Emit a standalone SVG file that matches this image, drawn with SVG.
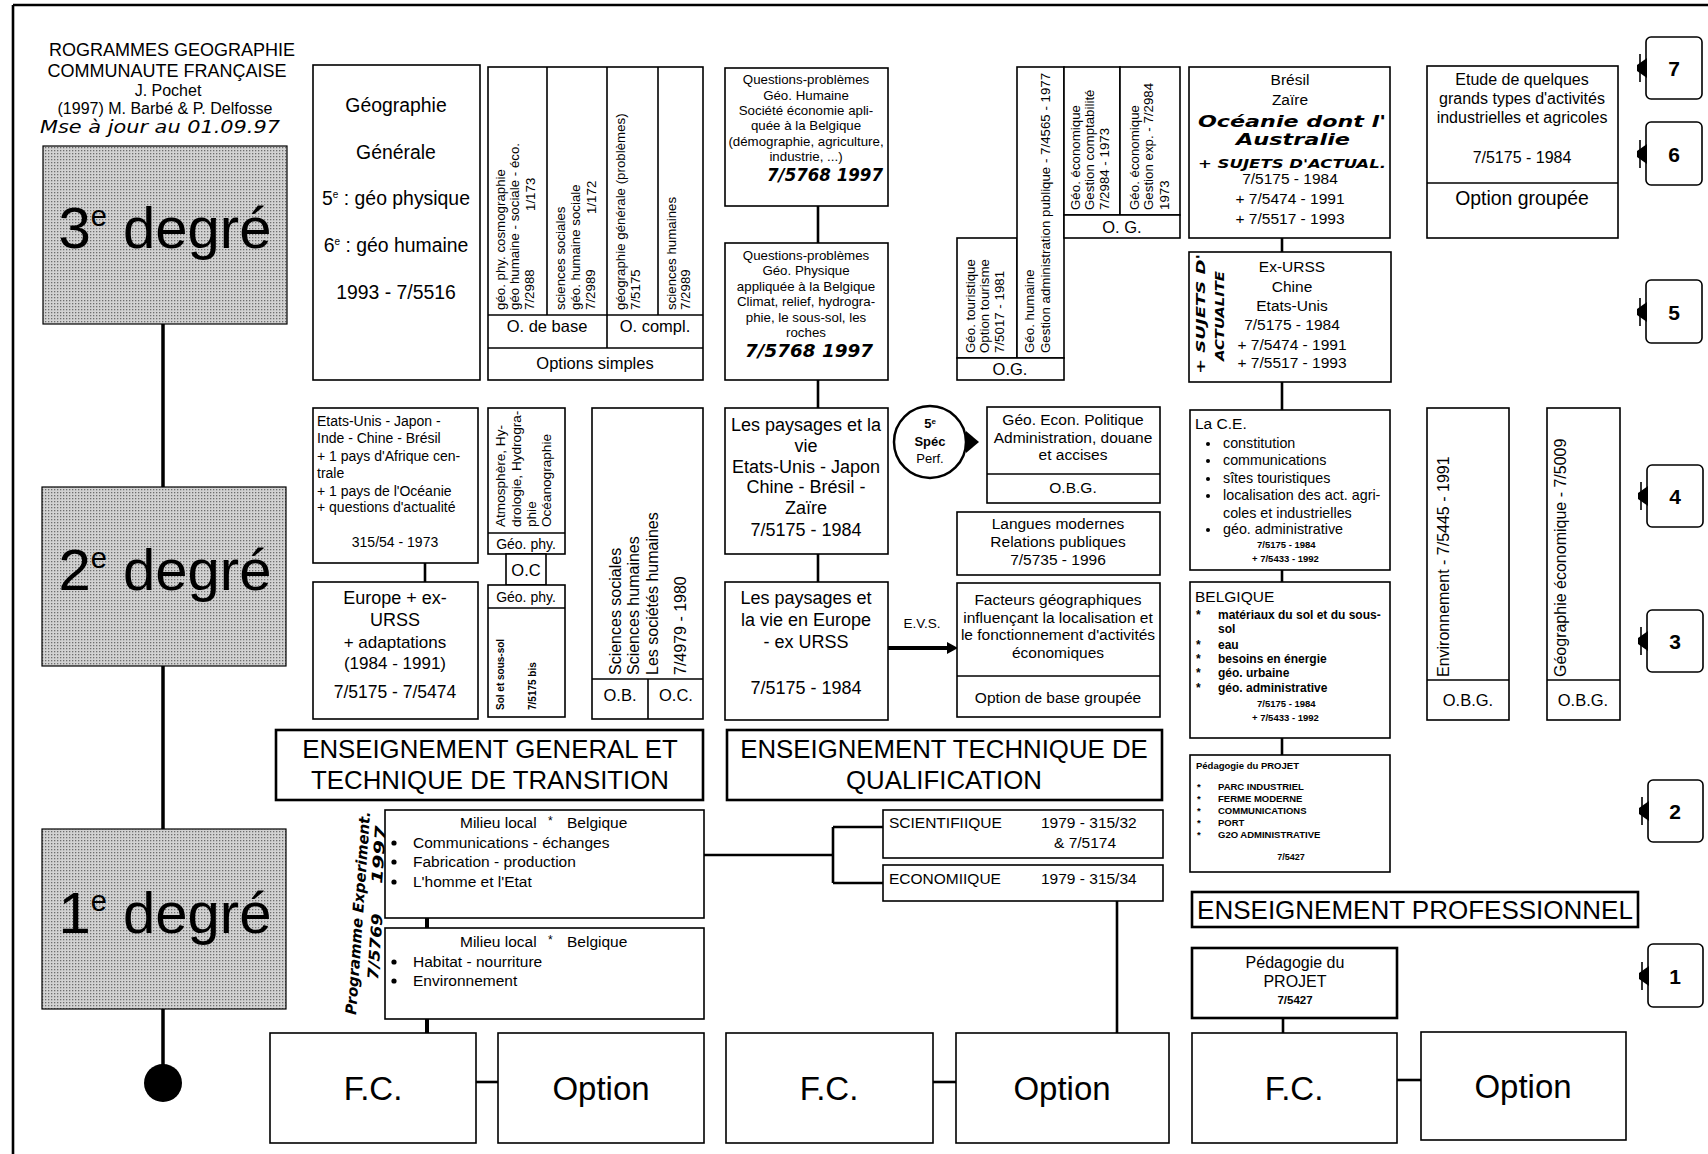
<svg xmlns="http://www.w3.org/2000/svg" width="1708" height="1154" viewBox="0 0 1708 1154">
<defs>
<pattern id="dots" width="3" height="3" patternUnits="userSpaceOnUse">
<rect width="3" height="3" fill="#d2d2d2"/>
<rect x="0" y="0" width="1.3" height="1.3" fill="#6e6e6e"/>
</pattern>
</defs>
<style>
text{font-family:"Liberation Sans",Arial,sans-serif;fill:#000}
.b{fill:#fff;stroke:#000;stroke-width:1.6}
.bt{fill:#fff;stroke:#000;stroke-width:2.6}
.deg{fill:url(#dots);stroke:#000;stroke-width:1.2}
.l{fill:none;stroke:#000;stroke-width:1.6}
.lk{fill:none;stroke:#000;stroke-width:2.6}
.c{text-anchor:middle}
.hw{font-family:"DejaVu Sans Condensed","DejaVu Sans",sans-serif;font-style:italic;font-weight:bold}
.hl{font-family:"DejaVu Sans Condensed","DejaVu Sans",sans-serif;font-style:italic}
.bd{font-weight:bold}
.big{font-size:58px}
.s9{font-size:9.5px}
.s10{font-size:10px}
.s11{font-size:12px}
.s12{font-size:13.3px}
.s13{font-size:13px}
.s14{font-size:15.5px}
.s15{font-size:15.5px}
.s16{font-size:18px}
.s18{font-size:19.4px}
.s24{font-size:25.8px}
.s26{font-size:26px}
.s33{font-size:33px}
.num{font-size:21px;font-weight:bold}
</style>
<rect width="1708" height="1154" fill="#fff"/>

<g id="frame">
<line x1="13" y1="5" x2="1708" y2="5" stroke="#000" stroke-width="2.6"/>
<line x1="13" y1="5" x2="13" y2="1154" stroke="#000" stroke-width="2.6"/>
</g>

<g id="title">
<text class="c" font-size="18" x="172" y="56">ROGRAMMES GEOGRAPHIE</text>
<text class="c" font-size="18" x="167" y="77">COMMUNAUTE FRANÇAISE</text>
<text class="c" font-size="16" x="168" y="96">J. Pochet</text>
<text class="c" font-size="16" x="165" y="114">(1997)  M. Barbé &amp; P. Delfosse</text>
<text class="hl" x="40" y="133" font-size="17" textLength="240" lengthAdjust="spacingAndGlyphs">Mse à jour au 01.09.97</text>
</g>

<g id="connectors">
<line x1="163" y1="324" x2="163" y2="487" stroke="#000" stroke-width="3.5"/>
<line x1="163" y1="666" x2="163" y2="829" stroke="#000" stroke-width="3.5"/>
<line x1="163" y1="1009" x2="163" y2="1070" stroke="#000" stroke-width="3.5"/>
<line class="lk" x1="818" y1="206" x2="818" y2="243"/>
<line class="lk" x1="818" y1="380" x2="818" y2="408"/>
<line class="lk" x1="818" y1="554" x2="818" y2="582"/>
<line class="lk" x1="425" y1="563" x2="425" y2="582"/>
<line class="lk" x1="1282" y1="238" x2="1282" y2="252"/>
<line class="lk" x1="1282" y1="382" x2="1282" y2="410"/>
<line class="lk" x1="1282" y1="570" x2="1282" y2="582"/>
<line class="lk" x1="1282" y1="738" x2="1282" y2="755"/>
<line x1="888" y1="648" x2="950" y2="648" stroke="#000" stroke-width="4"/>
<polygon points="947,642 958,648 947,654" fill="#000"/>
<polygon points="966,431 979,442 966,453" fill="#000"/>
<line x1="427" y1="918" x2="427" y2="928" stroke="#000" stroke-width="4"/>
<line x1="427" y1="1019" x2="427" y2="1033" stroke="#000" stroke-width="4"/>
<line class="lk" x1="704" y1="855" x2="833" y2="855"/>
<line class="lk" x1="833" y1="827" x2="833" y2="883"/>
<line class="lk" x1="833" y1="827" x2="883" y2="827"/>
<line class="lk" x1="833" y1="883" x2="883" y2="883"/>
<line class="lk" x1="1117" y1="901" x2="1117" y2="1033"/>
<line class="lk" x1="476" y1="1082" x2="498" y2="1082"/>
<line class="lk" x1="933" y1="1082" x2="956" y2="1082"/>
<line class="lk" x1="1397" y1="1080" x2="1421" y2="1080"/>
<line class="lk" x1="1283" y1="1018" x2="1283" y2="1033"/>
</g>

<g id="deg3">
<rect class="deg" x="43" y="146" width="244" height="178"/>
<text class="c big" x="165" y="248">3<tspan font-size="29" dy="-22">e</tspan><tspan dy="22"> degré</tspan></text>
</g>
<g id="deg2">
<rect class="deg" x="42" y="487" width="244" height="179"/>
<text class="c big" x="165" y="590">2<tspan font-size="29" dy="-22">e</tspan><tspan dy="22"> degré</tspan></text>
</g>
<g id="deg1">
<rect class="deg" x="42" y="829" width="244" height="180"/>
<text class="c big" x="165" y="933">1<tspan font-size="29" dy="-22">e</tspan><tspan dy="22"> degré</tspan></text>
</g>
<g id="end">
<circle cx="163" cy="1083" r="19" fill="#000"/>
</g>

<g id="geo-generale">
<rect class="b" x="313" y="65" width="167" height="315"/>
<text class="c s18" x="396" y="112">Géographie</text>
<text class="c s18" x="396" y="159">Générale</text>
<text class="c s18" x="396" y="205">5<tspan font-size="10" dy="-7">e</tspan><tspan dy="7"> : géo physique</tspan></text>
<text class="c s18" x="396" y="252">6<tspan font-size="10" dy="-7">e</tspan><tspan dy="7"> : géo humaine</tspan></text>
<text class="c s18" x="396" y="299">1993 - 7/5516</text>
</g>

<g id="options-simples">
<rect class="b" x="488" y="67" width="215" height="313"/>
<line class="l" x1="488" y1="315" x2="703" y2="315"/>
<line class="l" x1="488" y1="348" x2="703" y2="348"/>
<line class="l" x1="547" y1="67" x2="547" y2="315"/>
<line class="l" x1="607" y1="67" x2="607" y2="348"/>
<line class="l" x1="658" y1="67" x2="658" y2="315"/>
<text class="s12" transform="translate(505,310) rotate(-90)">géo. phy. cosmographie</text>
<text class="s12" transform="translate(519,310) rotate(-90)">géo humaine - sociale - éco.</text>
<text class="s12" transform="translate(534,310) rotate(-90)">7/2988</text>
<text class="s12" transform="translate(535,211) rotate(-90)">1/173</text>
<text class="s12" transform="translate(565,310) rotate(-90)">sciences sociales</text>
<text class="s12" transform="translate(580,310) rotate(-90)">géo. humaine sociale</text>
<text class="s12" transform="translate(595,310) rotate(-90)">7/2989</text>
<text class="s12" transform="translate(596,214) rotate(-90)">1/172</text>
<text class="s12" transform="translate(625,310) rotate(-90)">géographie générale (problèmes)</text>
<text class="s12" transform="translate(640,310) rotate(-90)">7/5175</text>
<text class="s12" transform="translate(676,310) rotate(-90)">sciences humaines</text>
<text class="s12" transform="translate(690,310) rotate(-90)">7/2989</text>
<text class="c" font-size="16.5" x="547" y="332">O. de base</text>
<text class="c" font-size="16.5" x="655" y="332">O. compl.</text>
<text class="c" font-size="16.5" x="595" y="369">Options simples</text>
</g>

<g id="qp-humaine">
<rect class="b" x="725" y="68" width="163" height="138"/>
<text class="c s12" x="806" y="84">Questions-problèmes</text>
<text class="c s12" x="806" y="100">Géo. Humaine</text>
<text class="c s12" x="806" y="115">Société économie apli-</text>
<text class="c s12" x="806" y="130">quée à la Belgique</text>
<text class="c s12" x="806" y="146">(démographie, agriculture,</text>
<text class="c s12" x="806" y="161">industrie, ...)</text>
<text class="hw" x="767" y="181" font-size="17" textLength="116" lengthAdjust="spacingAndGlyphs">7/5768  1997</text>
</g>

<g id="qp-physique">
<rect class="b" x="725" y="243" width="163" height="137"/>
<text class="c s12" x="806" y="260">Questions-problèmes</text>
<text class="c s12" x="806" y="275">Géo. Physique</text>
<text class="c s12" x="806" y="291">appliquée à la Belgique</text>
<text class="c s12" x="806" y="306">Climat, relief, hydrogra-</text>
<text class="c s12" x="806" y="322">phie, le sous-sol, les</text>
<text class="c s12" x="806" y="337">roches</text>
<text class="hw" x="745" y="357" font-size="18" textLength="128" lengthAdjust="spacingAndGlyphs">7/5768  1997</text>
</g>

<g id="og-left">
<rect class="b" x="957" y="238" width="60" height="120"/>
<rect class="b" x="1017" y="67" width="47" height="291"/>
<rect class="b" x="957" y="358" width="107" height="22"/>
<text class="s12" transform="translate(975,353) rotate(-90)">Géo. touristique</text>
<text class="s12" transform="translate(989,353) rotate(-90)">Option tourisme</text>
<text class="s12" transform="translate(1004,353) rotate(-90)">7/5017 - 1981</text>
<text class="s12" transform="translate(1034,353) rotate(-90)">Géo. humaine</text>
<text class="s12" transform="translate(1050,353) rotate(-90)">Gestion administration publique - 7/4565 - 1977</text>
<text class="c" font-size="16.5" x="1010" y="375">O.G.</text>
</g>

<g id="og-right">
<rect class="b" x="1064" y="67" width="56" height="148"/>
<rect class="b" x="1120" y="67" width="60" height="148"/>
<rect class="b" x="1064" y="215" width="116" height="23"/>
<text class="s12" transform="translate(1080,210) rotate(-90)">Géo. économique</text>
<text class="s12" transform="translate(1094,210) rotate(-90)">Gestion comptabilité</text>
<text class="s12" transform="translate(1109,210) rotate(-90)">7/2984  -  1973</text>
<text class="s12" transform="translate(1139,210) rotate(-90)">Géo. économique</text>
<text class="s12" transform="translate(1153,210) rotate(-90)">Gestion exp. - 7/2984</text>
<text class="s12" transform="translate(1169,210) rotate(-90)">1973</text>
<text class="c" font-size="16.5" x="1122" y="233">O. G.</text>
</g>

<g id="bresil">
<rect class="b" x="1189" y="67" width="201" height="171"/>
<text class="c s15" x="1290" y="85">Brésil</text>
<text class="c s15" x="1290" y="105">Zaïre</text>
<text class="hw" x="1198" y="127" font-size="16" textLength="188" lengthAdjust="spacingAndGlyphs">Océanie dont l'</text>
<text class="hw" x="1236" y="145" font-size="16" textLength="114" lengthAdjust="spacingAndGlyphs">Australie</text>
<text class="hw" x="1198" y="168" font-size="12" textLength="188" lengthAdjust="spacingAndGlyphs">+ SUJETS D'ACTUAL.</text>
<text class="c s15" x="1290" y="184">7/5175 - 1984</text>
<text class="c s15" x="1290" y="204">+ 7/5474 - 1991</text>
<text class="c s15" x="1290" y="224">+ 7/5517 - 1993</text>
</g>

<g id="ex-urss">
<rect class="b" x="1189" y="252" width="202" height="130"/>
<text class="hw" font-size="13" transform="translate(1205,374) rotate(-90)" textLength="120" lengthAdjust="spacingAndGlyphs">+ SUJETS D'</text>
<text class="hw" font-size="13" transform="translate(1224,361) rotate(-90)" textLength="90" lengthAdjust="spacingAndGlyphs">ACTUALITE</text>
<text class="c s15" x="1292" y="272">Ex-URSS</text>
<text class="c s15" x="1292" y="292">Chine</text>
<text class="c s15" x="1292" y="311">Etats-Unis</text>
<text class="c s15" x="1292" y="330">7/5175 - 1984</text>
<text class="c s15" x="1292" y="350">+ 7/5474 - 1991</text>
<text class="c s15" x="1292" y="368">+ 7/5517 - 1993</text>
</g>

<g id="etude">
<rect class="b" x="1427" y="66" width="191" height="172"/>
<line class="l" x1="1427" y1="183" x2="1618" y2="183"/>
<text class="c" font-size="16" x="1522" y="85">Etude de quelques</text>
<text class="c" font-size="16" x="1522" y="104">grands types d'activités</text>
<text class="c" font-size="16" x="1522" y="123">industrielles et agricoles</text>
<text class="c" font-size="16" x="1522" y="163">7/5175 - 1984</text>
<text class="c" font-size="19.4" x="1522" y="205">Option groupée</text>
</g>

<g id="n7"><rect class="b" x="1646" y="37" width="56" height="62" rx="5"/><path d="M1647,58 L1637,65 L1637,71 L1647,78 Z" fill="#000"/><line class="l" x1="1640" y1="54" x2="1640" y2="82"/><text class="c num" x="1674" y="76">7</text></g>
<g id="n6"><rect class="b" x="1646" y="122" width="56" height="63" rx="5"/><path d="M1647,144 L1637,151 L1637,157 L1647,164 Z" fill="#000"/><line class="l" x1="1640" y1="140" x2="1640" y2="168"/><text class="c num" x="1674" y="162">6</text></g>
<g id="n5"><rect class="b" x="1646" y="280" width="56" height="63" rx="5"/><path d="M1647,302 L1637,309 L1637,315 L1647,322 Z" fill="#000"/><line class="l" x1="1640" y1="298" x2="1640" y2="326"/><text class="c num" x="1674" y="320">5</text></g>
<g id="n4"><rect class="b" x="1647" y="465" width="56" height="62" rx="5"/><path d="M1648,486 L1638,493 L1638,499 L1648,506 Z" fill="#000"/><line class="l" x1="1641" y1="482" x2="1641" y2="510"/><text class="c num" x="1675" y="504">4</text></g>
<g id="n3"><rect class="b" x="1647" y="610" width="56" height="62" rx="5"/><path d="M1648,631 L1638,638 L1638,644 L1648,651 Z" fill="#000"/><line class="l" x1="1641" y1="627" x2="1641" y2="655"/><text class="c num" x="1675" y="649">3</text></g>
<g id="n2"><rect class="b" x="1648" y="780" width="55" height="62" rx="5"/><path d="M1649,801 L1639,808 L1639,814 L1649,821 Z" fill="#000"/><line class="l" x1="1642" y1="797" x2="1642" y2="825"/><text class="c num" x="1675" y="819">2</text></g>
<g id="n1"><rect class="b" x="1648" y="944" width="55" height="63" rx="5"/><path d="M1649,966 L1639,973 L1639,979 L1649,986 Z" fill="#000"/><line class="l" x1="1642" y1="962" x2="1642" y2="990"/><text class="c num" x="1675" y="984">1</text></g>

<g id="etats-unis">
<rect class="b" x="313" y="408" width="165" height="155"/>
<text font-size="14" x="317" y="426">Etats-Unis - Japon -</text>
<text font-size="14" x="317" y="443">Inde - Chine - Brésil</text>
<text font-size="14" x="317" y="461">+ 1 pays d'Afrique cen-</text>
<text font-size="14" x="317" y="478">trale</text>
<text font-size="14" x="317" y="496">+ 1 pays de l'Océanie</text>
<text font-size="14" x="317" y="512">+ questions d'actualité</text>
<text class="c" font-size="14" x="395" y="547">315/54 - 1973</text>
</g>

<g id="europe">
<rect class="b" x="313" y="582" width="165" height="137"/>
<text class="c s16" x="395" y="604">Europe + ex-</text>
<text class="c s16" x="395" y="626">URSS</text>
<text class="c" font-size="17" x="395" y="648">+ adaptations</text>
<text class="c" font-size="17" x="395" y="669">(1984 - 1991)</text>
<text class="c" font-size="17.5" x="395" y="698">7/5175 - 7/5474</text>
</g>

<g id="geophy-1">
<rect class="b" x="488" y="408" width="77" height="146"/>
<line class="l" x1="488" y1="533" x2="565" y2="533"/>
<text font-size="13.6" transform="translate(505,527) rotate(-90)">Atmosphère, Hy-</text>
<text font-size="13.6" transform="translate(521,527) rotate(-90)">drologie, Hydrogra-</text>
<text font-size="13.6" transform="translate(536,527) rotate(-90)">phie</text>
<text font-size="13.6" transform="translate(551,527) rotate(-90)">Océanographie</text>
<text class="c" font-size="14" x="526" y="549">Géo. phy.</text>
</g>
<g id="oc">
<rect class="b" x="506" y="554" width="40" height="31"/>
<text class="c" font-size="16.5" x="526" y="576">O.C</text>
</g>
<g id="geophy-2">
<rect class="b" x="488" y="585" width="77" height="132"/>
<line class="l" x1="488" y1="608" x2="565" y2="608"/>
<text class="c" font-size="14" x="526" y="602">Géo. phy.</text>
<text class="s10 bd" transform="translate(504,710) rotate(-90)">Sol et sous-sol</text>
<text class="s10 bd" transform="translate(536,710) rotate(-90)">7/5175 bis</text>
</g>

<g id="sciences">
<rect class="b" x="592" y="408" width="111" height="311"/>
<line class="l" x1="592" y1="679" x2="703" y2="679"/>
<line class="l" x1="648" y1="679" x2="648" y2="719"/>
<text font-size="16" transform="translate(621,675) rotate(-90)">Sciences sociales</text>
<text font-size="16" transform="translate(639,675) rotate(-90)">Sciences humaines</text>
<text font-size="16" transform="translate(658,675) rotate(-90)">Les sociétés humaines</text>
<text font-size="16" transform="translate(686,675) rotate(-90)">7/4979 - 1980</text>
<text class="c" font-size="16.5" x="620" y="701">O.B.</text>
<text class="c" font-size="16.5" x="676" y="701">O.C.</text>
</g>

<g id="paysages-1">
<rect class="b" x="725" y="408" width="163" height="146"/>
<text class="c s16" x="806" y="431">Les paysages et la</text>
<text class="c s16" x="806" y="452">vie</text>
<text class="c s16" x="806" y="473">Etats-Unis - Japon</text>
<text class="c s16" x="806" y="493">Chine - Brésil -</text>
<text class="c s16" x="806" y="514">Zaïre</text>
<text class="c s16" x="806" y="536">7/5175 - 1984</text>
</g>

<g id="paysages-2">
<rect class="b" x="725" y="582" width="163" height="138"/>
<text class="c s16" x="806" y="604">Les paysages et</text>
<text class="c s16" x="806" y="626">la vie en Europe</text>
<text class="c s16" x="806" y="648">- ex URSS</text>
<text class="c s16" x="806" y="694">7/5175 - 1984</text>
</g>

<g id="evs">
<text class="c" font-size="13.5" x="922" y="628">E.V.S.</text>
</g>

<g id="spec-perf">
<circle cx="930" cy="442" r="36" fill="#fff" stroke="#000" stroke-width="2.5"/>
<text class="c bd" font-size="13" x="930" y="428">5<tspan font-size="8" dy="-4">e</tspan></text>
<text class="c bd" font-size="13" x="930" y="446">Spéc</text>
<text class="c" font-size="13" x="930" y="463">Perf.</text>
</g>

<g id="geo-econ">
<rect class="b" x="987" y="407" width="173" height="96"/>
<line class="l" x1="987" y1="474" x2="1160" y2="474"/>
<text class="c s15" x="1073" y="425">Géo. Econ. Politique</text>
<text class="c s15" x="1073" y="443">Administration, douane</text>
<text class="c s15" x="1073" y="460">et accises</text>
<text class="c s15" x="1073" y="493">O.B.G.</text>
</g>

<g id="langues">
<rect class="b" x="957" y="512" width="203" height="63"/>
<text class="c s15" x="1058" y="529">Langues modernes</text>
<text class="c s15" x="1058" y="547">Relations publiques</text>
<text class="c s15" x="1058" y="565">7/5735 - 1996</text>
</g>

<g id="facteurs">
<rect class="b" x="957" y="583" width="203" height="134"/>
<line class="l" x1="957" y1="676" x2="1160" y2="676"/>
<text class="c s15" x="1058" y="605">Facteurs géographiques</text>
<text class="c s15" x="1058" y="623">influençant la localisation et</text>
<text class="c s15" x="1058" y="640">le fonctionnement d'activités</text>
<text class="c s15" x="1058" y="658">économiques</text>
<text class="c s15" x="1058" y="703">Option de base groupée</text>
</g>

<g id="ce">
<rect class="b" x="1190" y="410" width="200" height="160"/>
<text class="s15" x="1195" y="429">La C.E.</text>
<circle cx="1208" cy="444" r="2"/><text font-size="14.3" x="1223" y="448">constitution</text>
<circle cx="1208" cy="461" r="2"/><text font-size="14.3" x="1223" y="465">communications</text>
<circle cx="1208" cy="479" r="2"/><text font-size="14.3" x="1223" y="483">sîtes touristiques</text>
<circle cx="1208" cy="496" r="2"/><text font-size="14.3" x="1223" y="500">localisation des act. agri-</text>
<text font-size="14.3" x="1223" y="518">coles et industrielles</text>
<circle cx="1208" cy="530" r="2"/><text font-size="14.3" x="1223" y="534">géo. administrative</text>
<text class="s9 bd" x="1257" y="548">7/5175 - 1984</text>
<text class="s9 bd" x="1252" y="562">+ 7/5433 - 1992</text>
</g>

<g id="belgique">
<rect class="b" x="1190" y="582" width="200" height="156"/>
<text class="s15" x="1195" y="602">BELGIQUE</text>
<text class="s11 bd" x="1196" y="619">*</text><text class="s11 bd" x="1218" y="619">matériaux du sol et du sous-</text>
<text class="s11 bd" x="1218" y="633">sol</text>
<text class="s11 bd" x="1196" y="649">*</text><text class="s11 bd" x="1218" y="649">eau</text>
<text class="s11 bd" x="1196" y="663">*</text><text class="s11 bd" x="1218" y="663">besoins en énergie</text>
<text class="s11 bd" x="1196" y="677">*</text><text class="s11 bd" x="1218" y="677">géo. urbaine</text>
<text class="s11 bd" x="1196" y="692">*</text><text class="s11 bd" x="1218" y="692">géo. administrative</text>
<text class="s9 bd" x="1257" y="707">7/5175 - 1984</text>
<text class="s9 bd" x="1252" y="721">+ 7/5433 - 1992</text>
</g>

<g id="pedagogie-small">
<rect class="b" x="1190" y="755" width="200" height="117"/>
<text class="s9 bd" x="1196" y="769">Pédagogie du PROJET</text>
<text class="s9 bd" x="1197" y="790">*</text><text class="bd" font-size="9.5" x="1218" y="790">PARC INDUSTRIEL</text>
<text class="s9 bd" x="1197" y="802">*</text><text class="bd" font-size="9.5" x="1218" y="802">FERME MODERNE</text>
<text class="s9 bd" x="1197" y="814">*</text><text class="bd" font-size="9.5" x="1218" y="814">COMMUNICATIONS</text>
<text class="s9 bd" x="1197" y="826">*</text><text class="bd" font-size="9.5" x="1218" y="826">PORT</text>
<text class="s9 bd" x="1197" y="838">*</text><text class="bd" font-size="9.5" x="1218" y="838">G2O ADMINISTRATIVE</text>
<text class="c bd" font-size="9" x="1291" y="860">7/5427</text>
</g>

<g id="environnement">
<rect class="b" x="1427" y="408" width="82" height="312"/>
<line class="l" x1="1427" y1="680" x2="1509" y2="680"/>
<text font-size="16" transform="translate(1449,677) rotate(-90)">Environnement - 7/5445 - 1991</text>
<text class="c" font-size="16.5" x="1468" y="706">O.B.G.</text>
</g>

<g id="geo-economique">
<rect class="b" x="1547" y="408" width="73" height="312"/>
<line class="l" x1="1547" y1="680" x2="1620" y2="680"/>
<text font-size="16" transform="translate(1566,677) rotate(-90)">Géographie économique - 7/5009</text>
<text class="c" font-size="16.5" x="1583" y="706">O.B.G.</text>
</g>

<g id="banner-transition">
<rect class="bt" x="276" y="730" width="427" height="70"/>
<text class="c s24" x="490" y="758">ENSEIGNEMENT GENERAL ET</text>
<text class="c s24" x="490" y="789">TECHNIQUE DE TRANSITION</text>
</g>
<g id="banner-qualification">
<rect class="bt" x="727" y="730" width="435" height="70"/>
<text class="c s24" x="944" y="758">ENSEIGNEMENT TECHNIQUE DE</text>
<text class="c s24" x="944" y="789">QUALIFICATION</text>
</g>
<g id="banner-professionnel">
<rect class="bt" x="1192" y="892" width="446" height="35"/>
<text class="c s26" x="1415" y="919">ENSEIGNEMENT PROFESSIONNEL</text>
</g>

<g id="programme-exp">
<text class="hw" font-size="15" transform="translate(356,1015) rotate(-86)" textLength="204" lengthAdjust="spacingAndGlyphs">Programme Experiment.</text>
<text class="hw" font-size="15" transform="translate(378,980) rotate(-86)" textLength="66" lengthAdjust="spacingAndGlyphs">7/5769</text>
<text class="hw" font-size="15" transform="translate(382,884) rotate(-86)" textLength="58" lengthAdjust="spacingAndGlyphs">1997</text>
</g>

<g id="milieu-1">
<rect class="b" x="385" y="810" width="319" height="108"/>
<text class="s14" x="460" y="828">Milieu local</text>
<text font-size="12" x="548" y="825">*</text>
<text class="s14" x="567" y="828">Belgique</text>
<circle cx="394" cy="843" r="2.6"/><text class="s14" x="413" y="848">Communications - échanges</text>
<circle cx="394" cy="862" r="2.6"/><text class="s14" x="413" y="867">Fabrication - production</text>
<circle cx="394" cy="882" r="2.6"/><text class="s14" x="413" y="887">L'homme et l'Etat</text>
</g>

<g id="milieu-2">
<rect class="b" x="385" y="928" width="319" height="91"/>
<text class="s14" x="460" y="947">Milieu local</text>
<text font-size="12" x="548" y="944">*</text>
<text class="s14" x="567" y="947">Belgique</text>
<circle cx="394" cy="962" r="2.6"/><text class="s14" x="413" y="967">Habitat - nourriture</text>
<circle cx="394" cy="981" r="2.6"/><text class="s14" x="413" y="986">Environnement</text>
</g>

<g id="scientifique">
<rect class="b" x="883" y="810" width="280" height="48"/>
<text class="s14" x="889" y="828">SCIENTIFIIQUE</text>
<text class="s14" x="1041" y="828">1979 - 315/32</text>
<text class="s14" x="1054" y="848">&amp; 7/5174</text>
</g>
<g id="economique">
<rect class="b" x="883" y="865" width="280" height="36"/>
<text class="s14" x="889" y="884">ECONOMIIQUE</text>
<text class="s14" x="1041" y="884">1979 - 315/34</text>
</g>

<g id="pedagogie">
<rect class="bt" x="1192" y="948" width="205" height="70"/>
<text class="c" font-size="16" x="1295" y="968">Pédagogie du</text>
<text class="c" font-size="16" x="1295" y="987">PROJET</text>
<text class="c bd" font-size="11.5" x="1295" y="1004">7/5427</text>
</g>

<g id="fc-1"><rect class="b" x="270" y="1033" width="206" height="110"/><text class="c s33" x="373" y="1100">F.C.</text></g>
<g id="option-1"><rect class="b" x="498" y="1033" width="206" height="110"/><text class="c s33" x="601" y="1100">Option</text></g>
<g id="fc-2"><rect class="b" x="726" y="1033" width="207" height="110"/><text class="c s33" x="829" y="1100">F.C.</text></g>
<g id="option-2"><rect class="b" x="956" y="1033" width="213" height="110"/><text class="c s33" x="1062" y="1100">Option</text></g>
<g id="fc-3"><rect class="b" x="1192" y="1033" width="205" height="110"/><text class="c s33" x="1294" y="1100">F.C.</text></g>
<g id="option-3"><rect class="b" x="1421" y="1032" width="205" height="108"/><text class="c s33" x="1523" y="1098">Option</text></g>
</svg>
